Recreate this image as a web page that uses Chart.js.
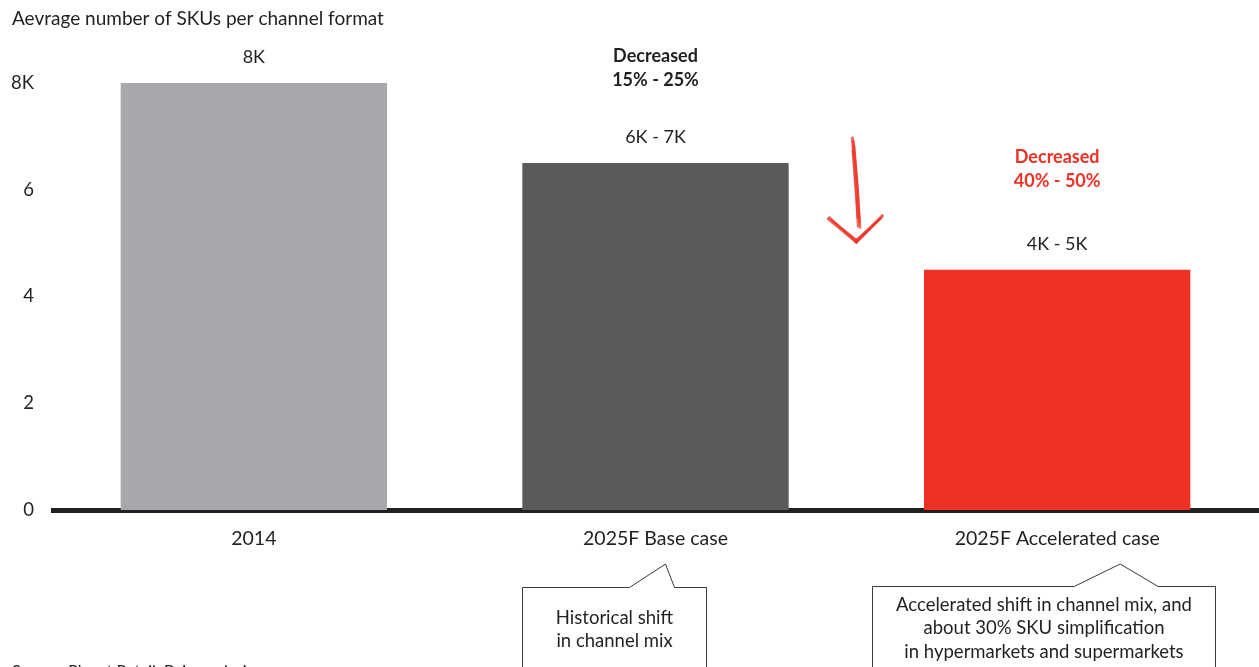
<!DOCTYPE html>
<html>
<head>
<meta charset="utf-8">
<title>Average number of SKUs per channel format</title>
<script src="https://cdn.jsdelivr.net/npm/chart.js@4/dist/chart.umd.min.js"></script>
<style>
  html, body { margin: 0; padding: 0; background: #ffffff; }
  #wrap { position: relative; width: 1259px; height: 667px; overflow: hidden; }
</style>
</head>
<body>
<div id="wrap"><canvas id="chart"></canvas></div>
<script>
// ---- data ----
const categories = ['2014', '2025F Base case', '2025F Accelerated case'];
const skuThousands = [8, 6.5, 4.5];
const valueLabels = ['8K', '6K - 7K', '4K - 5K'];
const changeNotes = [null, ['Decreased', '15% - 25%'], ['Decreased', '40% - 50%']];
const calloutTexts = [null, ['Historical shift', 'in channel mix'],
  ['Accelerated shift in channel mix, and', 'about 30% SKU simplification', 'in hypermarkets and supermarkets']];
const yTickLabels = { 0: '0', 2: '2', 4: '4', 6: '6', 8: '8K' };
const titleText = 'Aevrage number of SKUs per channel format';
const sourceText = 'Source: Planet Retail; Bain analysis';

// ---- style ----
const FONT = 'Lato, "Open Sans", sans-serif';
const INK = '#231f20';
const RED = '#ee3124';
const barColors = ['#a7a8ab', '#5a5a5c', RED];
const noteColors = [INK, INK, RED];
const noteOffsets = [null, [107, 83], [113, 89]];

// Text, annotations, hand-drawn arrow and callouts
const annotations = {
  id: 'annotations',
  afterDatasetsDraw(chart) {
    const ctx = chart.ctx;
    const meta = chart.getDatasetMeta(0);
    ctx.save();
    ctx.textAlign = 'center';
    ctx.textBaseline = 'middle';

    meta.data.forEach((bar, i) => {
      // value label above each bar
      ctx.font = '18px ' + FONT;
      ctx.fillStyle = INK;
      ctx.fillText(valueLabels[i], bar.x, bar.y - 26);
      // change note
      const note = changeNotes[i];
      if (note) {
        ctx.font = 'bold 18px ' + FONT;
        ctx.fillStyle = noteColors[i];
        ctx.fillText(note[0], bar.x, bar.y - noteOffsets[i][0]);
        ctx.fillText(note[1], bar.x, bar.y - noteOffsets[i][1]);
      }
    });

    // hand-drawn downward arrow between the two forecast bars
    const b1 = meta.data[1], b2 = meta.data[2];
    const ax = (b1.x + b2.x) / 2 - 1;
    const yTop = b1.y - 25, yBot = b2.y - 28;
    ctx.strokeStyle = RED;
    ctx.lineCap = 'round';
    const strokes = [
      [[-3, 0], [1, 40], [3, 88], 3.2],
      [[-2, 3], [2, 45], [4, 84], 2.6],
      [[-1, 8], [3, 50], [5, 90], 2.0],
      [[-3, 12], [0, 50], [2, 80], 1.6]
    ];
    strokes.forEach(s => {
      ctx.globalAlpha = 0.7;
      ctx.lineWidth = s[3];
      ctx.beginPath();
      ctx.moveTo(ax + s[0][0], yTop + s[0][1]);
      ctx.quadraticCurveTo(ax + s[1][0], yTop + s[1][1], ax + s[2][0], yTop + s[2][1]);
      ctx.stroke();
    });
    const tipX = ax + 1, tipY = yBot;
    [[-28, -23, 3.2, 0], [-25, -22, 2.2, -2], [-27, -25, 1.6, 1],
     [26, -26, 3.2, 0], [24, -23, 2.2, -2], [25, -24, 1.6, 1]].forEach(a => {
      ctx.globalAlpha = 0.75;
      ctx.lineWidth = a[2];
      ctx.beginPath();
      ctx.moveTo(tipX + a[0], tipY + a[1]);
      ctx.lineTo(tipX, tipY + a[3]);
      ctx.stroke();
    });
    ctx.globalAlpha = 1;

    // callout boxes below the category labels
    const boxes = [null,
      { left: -134, right: 50, top: 587, tip: [10, 564], base: [-26, 19] },
      { left: -185, right: 158, top: 586, tip: [63, 564], base: [17, 101] }];
    ctx.strokeStyle = '#3a3a3a';
    ctx.lineWidth = 1;
    ctx.lineCap = 'butt';
    boxes.forEach((b, i) => {
      if (!b) return;
      const cx = meta.data[i].x;
      const L = Math.round(cx + b.left) + 0.5, R = Math.round(cx + b.right) + 0.5, T = b.top + 0.5;
      ctx.fillStyle = '#ffffff';
      ctx.beginPath();
      ctx.moveTo(L, 700);
      ctx.lineTo(L, T);
      ctx.lineTo(cx + b.base[0], T);
      ctx.lineTo(cx + b.tip[0], b.tip[1]);
      ctx.lineTo(cx + b.base[1], T);
      ctx.lineTo(R, T);
      ctx.lineTo(R, 700);
      ctx.fill();
      ctx.stroke();
      const lines = calloutTexts[i];
      const mid = (L + R) / 2;
      ctx.font = '18.5px ' + FONT;
      ctx.fillStyle = INK;
      const startY = lines.length === 2 ? 618 : 605;
      lines.forEach((t, j) => ctx.fillText(t, mid, startY + j * 23.5));
    });

    // title and source
    ctx.textAlign = 'left';
    ctx.textBaseline = 'middle';
    ctx.font = '19px ' + FONT;
    ctx.fillStyle = INK;
    ctx.fillText(titleText, 12, 19);
    ctx.textBaseline = 'alphabetic';
    ctx.font = '16px ' + FONT;
    ctx.fillText(sourceText, 12, 676);
    ctx.restore();
  }
};

new Chart(document.getElementById('chart'), {
  type: 'bar',
  data: {
    labels: categories,
    datasets: [{
      data: skuThousands,
      backgroundColor: barColors,
      borderWidth: 0,
      categoryPercentage: 1,
      barPercentage: 0.663
    }]
  },
  options: {
    responsive: true,
    maintainAspectRatio: false,
    animation: false,
    devicePixelRatio: 1,
    layout: { padding: { top: 83, right: 1, bottom: 0, left: 0 } },
    plugins: { legend: { display: false }, tooltip: { enabled: false } },
    scales: {
      x: {
        z: 1,
        grid: { display: false },
        border: { display: true, color: INK, width: 5 },
        ticks: { color: INK, font: { family: FONT, size: 19.5 }, padding: 9 },
        afterFit(scale) { scale.height = 157; }
      },
      y: {
        min: 0,
        max: 8,
        grid: { display: false },
        border: { display: false },
        ticks: {
          stepSize: 2,
          color: INK,
          padding: 11,
          font: { family: FONT, size: 18.5 },
          callback: v => yTickLabels[v]
        },
        afterFit(scale) { scale.width = 53; }
      }
    }
  },
  plugins: [annotations]
});
</script>
</body>
</html>
